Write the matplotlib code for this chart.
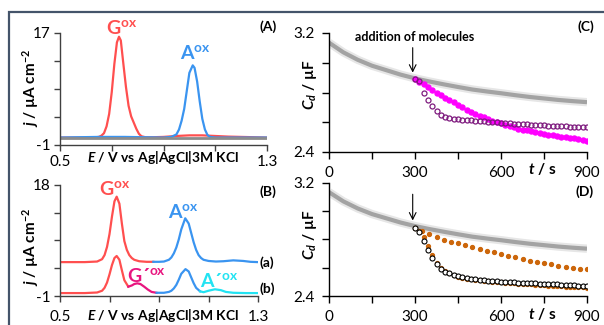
"""
Voltammograms (A, B) and capacitance vs time traces (C, D) for G / A oxidation.
Outputs: out.png
"""

import matplotlib
matplotlib.use("Agg")
import matplotlib.pyplot as plt
from matplotlib.patches import Rectangle

plt.rcParams["font.family"] = ["Lato", "DejaVu Sans"]
plt.rcParams["mathtext.fontset"] = "custom"
plt.rcParams["mathtext.rm"] = "Lato:bold"
plt.rcParams["mathtext.it"] = "Lato:bold:italic"
plt.rcParams["mathtext.bf"] = "Lato:bold"

# ── Panel A: single-molecule voltammograms ───────────────────────────────────
A_blank_E = [0.50, 1.30]
A_blank_j = [0.2, 0.2]

A_red_E = [0.50, 0.60, 0.64, 0.65, 0.66, 0.67, 0.68, 0.69, 0.70, 0.71, 0.72, 0.728,
           0.735, 0.745, 0.755, 0.765, 0.775, 0.785, 0.795, 0.805, 0.815, 0.83,
           0.86, 0.90, 0.95, 1.00, 1.05, 1.10, 1.15, 1.20, 1.30]
A_red_j = [0.2, 0.2, 0.25, 0.3, 0.5, 0.9, 2.0, 4.0, 7.5, 12.0, 15.5, 16.4,
           15.8, 12.0, 8.3, 5.3, 3.6, 2.6, 1.6, 0.8, 0.4, 0.25,
           0.25, 0.3, 0.45, 0.55, 0.55, 0.45, 0.35, 0.3, 0.2]

A_blue_E = [0.50, 0.65, 0.75, 0.90, 0.93, 0.95, 0.96, 0.97, 0.98, 0.99, 1.00, 1.013,
            1.02, 1.03, 1.04, 1.05, 1.06, 1.07, 1.08, 1.10, 1.30]
A_blue_j = [0.2, 0.3, 0.3, 0.2, 0.3, 0.7, 1.5, 2.9, 4.8, 7.7, 10.6, 11.8,
            11.4, 9.2, 6.0, 3.2, 1.5, 0.6, 0.3, 0.2, 0.2]

# ── Panel B: mixture, curve (a) and curve (b) ────────────────────────────────
Ba_red_E = [0.50, 0.60, 0.65, 0.67, 0.68, 0.69, 0.70, 0.71, 0.72, 0.729,
            0.74, 0.75, 0.76, 0.77, 0.78, 0.79, 0.80, 0.82, 0.85, 0.877]
Ba_red_j = [4.8, 4.8, 4.9, 5.3, 6.0, 7.4, 9.6, 12.6, 15.2, 16.0,
            14.8, 11.4, 8.4, 6.9, 6.0, 5.5, 5.2, 4.95, 4.85, 4.85]
Ba_blue_E = [0.877, 0.90, 0.92, 0.94, 0.95, 0.96, 0.97, 0.98, 0.99, 1.006,
             1.02, 1.03, 1.04, 1.05, 1.06, 1.07, 1.08, 1.10, 1.13, 1.16,
             1.20, 1.24, 1.27, 1.30]
Ba_blue_j = [4.85, 4.85, 4.9, 5.2, 5.6, 6.3, 7.3, 8.7, 10.4, 12.3,
             11.4, 9.8, 8.2, 6.9, 6.0, 5.5, 5.2, 5.0, 4.9, 4.95,
             5.1, 5.0, 4.85, 4.8]

Bb_red_E = [0.50, 0.60, 0.65, 0.67, 0.68, 0.69, 0.70, 0.71, 0.72, 0.729,
            0.74, 0.75, 0.76, 0.776]
Bb_red_j = [-0.5, -0.5, -0.4, -0.1, 0.4, 1.3, 2.7, 4.3, 5.5, 5.85,
            5.2, 3.4, 1.7, 0.6]
Bb_pink_E = [0.776, 0.79, 0.80, 0.812, 0.825, 0.84, 0.855, 0.87, 0.89]
Bb_pink_j = [0.6, 0.8, 1.05, 1.17, 1.05, 0.6, 0.1, -0.3, -0.45]
Bb_blue_E = [0.89, 0.92, 0.94, 0.95, 0.96, 0.97, 0.98, 0.99, 1.007,
             1.02, 1.03, 1.04, 1.05, 1.066]
Bb_blue_j = [-0.45, -0.45, -0.3, -0.1, 0.3, 0.9, 1.8, 2.8, 3.6,
             3.2, 2.2, 1.2, 0.4, -0.2]
Bb_cyan_E = [1.066, 1.08, 1.10, 1.126, 1.15, 1.17, 1.20, 1.25, 1.30]
Bb_cyan_j = [-0.2, -0.35, -0.1, 0.15, 0.0, -0.3, -0.45, -0.5, -0.5]

# ── Panels C, D: capacitance vs time ─────────────────────────────────────────
ref_t = [0, 50, 100, 150, 200, 250, 300, 350, 400, 450, 500, 550, 600, 650,
         700, 750, 800, 850, 900]
ref_C = [3.135, 3.07, 3.02, 2.98, 2.95, 2.92, 2.895, 2.874, 2.855, 2.837,
         2.82, 2.807, 2.795, 2.782, 2.77, 2.76, 2.75, 2.742, 2.735]

run_t = [300, 315, 330, 345, 360, 375, 390, 405, 420, 435, 450, 465, 480, 495,
         510, 525, 540, 555, 570, 585, 600, 615, 630, 645, 660, 675, 690, 705,
         720, 735, 750, 765, 780, 795, 810, 825, 840, 855, 870, 885, 900]

C_purple = [2.89, 2.875, 2.80, 2.75, 2.71, 2.675, 2.652, 2.638, 2.630, 2.625,
            2.621, 2.618, 2.615, 2.613, 2.611, 2.609, 2.607, 2.605, 2.602, 2.599,
            2.596, 2.594, 2.592, 2.590, 2.588, 2.586, 2.585, 2.583, 2.582, 2.580,
            2.579, 2.577, 2.576, 2.575, 2.573, 2.572, 2.571, 2.570, 2.569, 2.568,
            2.567]
C_magenta = [2.89, 2.872, 2.855, 2.836, 2.817, 2.800, 2.783, 2.766, 2.751, 2.734,
             2.717, 2.700, 2.684, 2.670, 2.657, 2.644, 2.632, 2.621, 2.611, 2.601,
             2.592, 2.583, 2.574, 2.565, 2.557, 2.551, 2.545, 2.540, 2.534, 2.528,
             2.522, 2.516, 2.511, 2.507, 2.503, 2.500, 2.496, 2.491, 2.486, 2.481,
             2.476]

D_black = [2.879, 2.850, 2.792, 2.729, 2.670, 2.624, 2.592, 2.572, 2.560, 2.549,
           2.540, 2.532, 2.525, 2.521, 2.518, 2.515, 2.512, 2.509, 2.506, 2.503,
           2.501, 2.499, 2.497, 2.496, 2.494, 2.493, 2.491, 2.490, 2.489, 2.487,
           2.486, 2.485, 2.483, 2.482, 2.480, 2.478, 2.476, 2.475, 2.473, 2.472,
           2.470]
D_orange_low = [2.879, 2.862, 2.815, 2.755, 2.690, 2.635, 2.598, 2.575, 2.560, 2.548,
                2.538, 2.530, 2.523, 2.518, 2.514, 2.510, 2.507, 2.504, 2.501, 2.498,
                2.496, 2.494, 2.492, 2.490, 2.488, 2.486, 2.484, 2.482, 2.480, 2.478,
                2.476, 2.474, 2.472, 2.470, 2.468, 2.466, 2.465, 2.463, 2.462, 2.461,
                2.460]

slow_t = [300, 325, 350, 375, 400, 425, 450, 475, 500, 525, 550, 575, 600, 625,
          650, 675, 700, 725, 750, 775, 800, 825, 850, 875, 900]
D_orange_high = [2.879, 2.862, 2.840, 2.815, 2.797, 2.783, 2.772, 2.760, 2.748,
                 2.735, 2.722, 2.709, 2.697, 2.685, 2.673, 2.662, 2.651, 2.641,
                 2.632, 2.624, 2.615, 2.607, 2.600, 2.594, 2.588]

RED = "#FF4F4F"
BLUE = "#3A94F0"
PINK = "#E8157F"
CYAN = "#22E3F2"
MAGENTA = "#FF00FF"
PURPLE = "#7E1A7E"
ORANGE = "#CC660A"

W, H = 604, 325


def box(x0, y0, x1, y1):
    # pixel box (top-left origin) -> figure fraction rect
    return [x0 / W, 1 - y1 / H, (x1 - x0) / W, (y1 - y0) / H]


def ptext(x, y, s, **kw):
    fig.text(x / W, 1 - y / H, s, **kw)


def style(ax, color):
    for side in ("top", "right"):
        ax.spines[side].set_visible(False)
    for side in ("left", "bottom"):
        ax.spines[side].set_color(color)
        ax.spines[side].set_linewidth(1.0)
    ax.tick_params(direction="out", length=4, width=1.0, color=color,
                   labelsize=11, pad=3)


fig = plt.figure(figsize=(W / 100, H / 100), dpi=100)

# frame around the figure
fig.add_artist(Rectangle((9 / W, -0.1), 1.2, 1 - 12 / H + 0.1,
                         transform=fig.transFigure, fill=False,
                         edgecolor="#44546A", lw=1.6))

# ── (A) ──
axA = fig.add_axes(box(60, 33, 267, 145))
axA.plot(A_red_E, A_red_j, color=RED, lw=1.6)
axA.plot(A_blue_E, A_blue_j, color=BLUE, lw=1.6)
axA.plot(A_blank_E, A_blank_j, color="#8C8C8C", lw=2.0)
axA.set_xlim(0.5, 1.3)
axA.set_ylim(-1, 17)
axA.set_xticks([0.5, 0.7, 0.9, 1.1, 1.3], ["0.5", "", "", "", "1.3"])
axA.set_yticks([-1, 3.5, 8, 12.5, 17], ["-1", "", "", "", "17"])
style(axA, "#404040")

# ── (B) ──
axB = fig.add_axes(box(60, 185, 258, 296))
axB.plot(Ba_red_E, Ba_red_j, color=RED, lw=1.6)
axB.plot(Ba_blue_E, Ba_blue_j, color=BLUE, lw=1.6)
axB.plot(Bb_red_E, Bb_red_j, color=RED, lw=1.6)
axB.plot(Bb_pink_E, Bb_pink_j, color=PINK, lw=1.6)
axB.plot(Bb_blue_E, Bb_blue_j, color=BLUE, lw=1.6)
axB.plot(Bb_cyan_E, Bb_cyan_j, color=CYAN, lw=1.6)
axB.set_xlim(0.5, 1.3)
axB.set_ylim(-1, 18)
axB.set_xticks([0.5, 0.7, 0.9, 1.1, 1.3], ["0.5", "", "", "", "1.3"])
axB.set_yticks([-1, 3.75, 8.5, 13.25, 18], ["-1", "", "", "", "18"])
style(axB, "#404040")
axB.tick_params(axis="x", pad=6)

# ── (C) ──
axC = fig.add_axes(box(329, 33, 587, 152))
axC.plot(ref_t, ref_C, color="#E6E6E6", lw=6, solid_capstyle="butt")
axC.plot(ref_t, ref_C, color="#A3A3A3", lw=3, solid_capstyle="butt")
axC.plot(run_t, C_magenta, ls="none", marker="o", ms=3.6, color=MAGENTA)
axC.plot(run_t, C_purple, ls="none", marker="o", ms=3.6, mfc="none",
         mec=PURPLE, mew=0.9)
axC.annotate("", xy=(292, 2.915), xytext=(292, 3.12),
             arrowprops=dict(arrowstyle="->", lw=0.8, color="black",
                             mutation_scale=12))
axC.text(297, 3.172, "addition of molecules", ha="center", va="center",
         fontsize=9, fontweight="bold")

# ── (D) ──
axD = fig.add_axes(box(329, 183, 587, 296))
axD.plot(ref_t, ref_C, color="#E6E6E6", lw=6, solid_capstyle="butt")
axD.plot(ref_t, ref_C, color="#A3A3A3", lw=3, solid_capstyle="butt")
axD.plot(slow_t, D_orange_high, ls="none", marker="o", ms=2.8, color=ORANGE)
axD.plot(run_t, D_orange_low, ls="none", marker="o", ms=2.8, color=ORANGE)
axD.plot(run_t, D_black, ls="none", marker="o", ms=3.6, mfc="white",
         mec="black", mew=0.8)
axD.annotate("", xy=(292, 2.915), xytext=(292, 3.14),
             arrowprops=dict(arrowstyle="->", lw=0.8, color="black",
                             mutation_scale=12))

for ax in (axC, axD):
    ax.set_xlim(0, 900)
    ax.set_ylim(2.4, 3.2)
    ax.set_xticks([0, 150, 300, 450, 600, 750, 900],
                  ["0", "", "300", "", "600", "", "900"])
    ax.set_yticks([2.4, 2.6, 2.8, 3.0, 3.2], ["2.4", "", "", "", "3.2"])
    style(ax, "black")
    ax.tick_params(length=5, pad=5)

# ── axis titles ──
for y in (88, 247):
    ptext(31, y, "$\\mathit{j}$ / µA cm$^{-2}$", rotation=90, ha="center",
          va="center", fontsize=11, fontweight="bold")
for y in (85, 235):
    ptext(310, y, "$\\mathit{C}_{\\mathit{d}}$ / µF", rotation=90, ha="center",
          va="center", fontsize=11, fontweight="bold")
ptext(163, 158, "$\\mathit{E}$ / V vs Ag|AgCl|3M KCl", ha="center", va="center",
      fontsize=10, fontweight="bold")
ptext(163, 315, "$\\mathit{E}$ / V vs Ag|AgCl|3M KCl", ha="center", va="center",
      fontsize=10, fontweight="bold")
for y in (169, 314):
    ptext(542, y, "$\\mathit{t}$ / s", ha="center", va="center", fontsize=11,
          fontweight="bold")

# ── peak labels ──
ptext(106, 28, "G$^{\\mathrm{ox}}$", color=RED, fontsize=14, fontweight="bold",
      va="center")
ptext(180, 53, "A$^{\\mathrm{ox}}$", color=BLUE, fontsize=14, fontweight="bold",
      va="center")
ptext(99, 189, "G$^{\\mathrm{ox}}$", color=RED, fontsize=14, fontweight="bold",
      va="center")
ptext(168, 212, "A$^{\\mathrm{ox}}$", color=BLUE, fontsize=14, fontweight="bold",
      va="center")
ptext(127, 276, "G´$^{\\mathrm{ox}}$", color=PINK, fontsize=14, fontweight="bold",
      va="center")
ptext(200, 281, "A´$^{\\mathrm{ox}}$", color=CYAN, fontsize=14, fontweight="bold",
      va="center")

# ── panel letters and curve tags ──
for x, y, s in [(268, 27, "(A)"), (268, 192, "(B)"), (586, 27, "(C)"),
                (585, 192, "(D)"), (267, 263, "(a)"), (267, 289, "(b)")]:
    ptext(x, y, s, ha="center", va="center", fontsize=10, fontweight="bold")

fig.savefig("out.png", dpi=100)
